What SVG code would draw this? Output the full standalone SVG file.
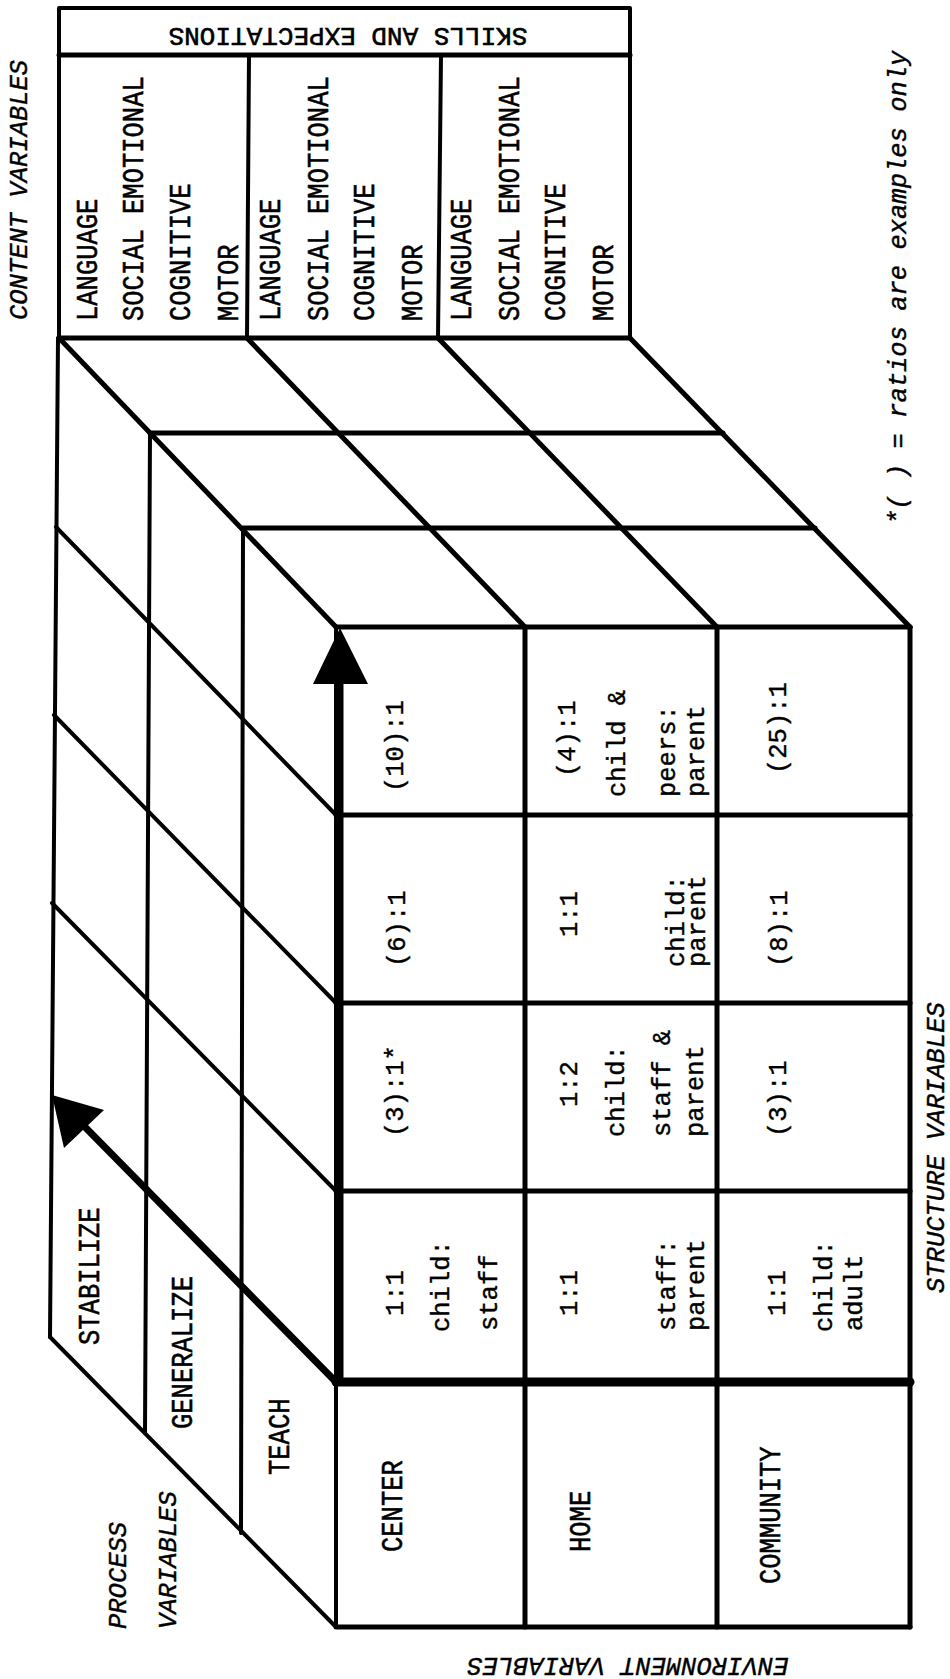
<svg xmlns="http://www.w3.org/2000/svg" width="950" height="1679" viewBox="0 0 950 1679">
<style>
.ln{stroke:#000;fill:none;stroke-linecap:round;stroke-linejoin:round}
.w3{stroke-width:3}.w4{stroke-width:4}.w5{stroke-width:5}.w7{stroke-width:7}.w9{stroke-width:9}
text{font-family:"Liberation Mono","Courier New",monospace;font-size:25.5px;fill:#000;stroke:#000;stroke-width:0.4}
.cap{stroke-width:0.5}
.it{font-style:italic}
.hd{font-size:26px;stroke-width:0.6}
</style>
<rect width="950" height="1679" fill="#fff"/>
<g id="content-face" class="ln">
<path class="w4" d="M59,8 L630,8 L630,338 M59,8 L59,338"/>
<line class="w5" x1="59" y1="55" x2="630" y2="55"/>
<line class="w4" x1="249" y1="55" x2="247" y2="338"/>
<line class="w4" x1="441" y1="55" x2="438" y2="338"/>
<line class="w5" x1="59" y1="338" x2="630" y2="338"/>
</g>
<g id="top-face" class="ln w5">
<line x1="59" y1="338" x2="336" y2="627"/>
<line x1="247" y1="338" x2="525" y2="627"/>
<line x1="438" y1="338" x2="717" y2="627"/>
<line x1="630" y1="338" x2="910" y2="627"/>
<line x1="150" y1="433" x2="723" y2="433"/>
<line x1="243" y1="528" x2="815" y2="528"/>
</g>
<g id="left-face" class="ln w4">
<line x1="58" y1="338" x2="50" y2="1337"/>
<line x1="150" y1="433" x2="145" y2="1433"/>
<line x1="243" y1="528" x2="241" y2="1533"/>
<line x1="56" y1="527" x2="336" y2="815"/>
<line x1="54" y1="715" x2="336" y2="1003"/>
<line x1="52" y1="903" x2="336" y2="1191"/>
<line x1="50" y1="1337" x2="336" y2="1627"/>
</g>
<g id="front-face" class="ln w5">
<line x1="336" y1="627" x2="910" y2="627"/>
<line x1="910" y1="627" x2="910" y2="1627"/>
<line x1="336" y1="1627" x2="910" y2="1627"/>
<line class="w4" x1="336" y1="627" x2="336" y2="1627"/>
<line x1="336" y1="815" x2="910" y2="815"/>
<line x1="336" y1="1003" x2="910" y2="1003"/>
<line x1="336" y1="1191" x2="910" y2="1191"/>
<line class="w9" x1="336" y1="1382" x2="910" y2="1382"/>
<line x1="525" y1="627" x2="525" y2="1627"/>
<line x1="717" y1="627" x2="717" y2="1627"/>
</g>
<g id="connectors">
<line class="ln w7" x1="340" y1="1382" x2="340" y2="680"/>
<polygon points="340,628 313,684 368,684" fill="#000"/>
<line class="ln w7" x1="336" y1="1382" x2="86" y2="1128"/>
<polygon points="52,1095 64,1148 104,1110" fill="#000"/>
</g>
<g id="content-labels">
<text class="hd" text-anchor="middle" transform="translate(348,28) rotate(180)">SKILLS AND EXPECTATIONS</text>
<text class="cap" transform="translate(97,321) rotate(-90) scale(1,1.15)">LANGUAGE</text>
<text class="cap" transform="translate(143,321) rotate(-90) scale(1,1.15)">SOCIAL EMOTIONAL</text>
<text class="cap" transform="translate(190,321) rotate(-90) scale(1,1.15)">COGNITIVE</text>
<text class="cap" transform="translate(238,321) rotate(-90) scale(1,1.15)">MOTOR</text>
<text class="cap" transform="translate(280,321) rotate(-90) scale(1,1.15)">LANGUAGE</text>
<text class="cap" transform="translate(328,321) rotate(-90) scale(1,1.15)">SOCIAL EMOTIONAL</text>
<text class="cap" transform="translate(374,321) rotate(-90) scale(1,1.15)">COGNITIVE</text>
<text class="cap" transform="translate(422,321) rotate(-90) scale(1,1.15)">MOTOR</text>
<text class="cap" transform="translate(471,321) rotate(-90) scale(1,1.15)">LANGUAGE</text>
<text class="cap" transform="translate(519,321) rotate(-90) scale(1,1.15)">SOCIAL EMOTIONAL</text>
<text class="cap" transform="translate(565,321) rotate(-90) scale(1,1.15)">COGNITIVE</text>
<text class="cap" transform="translate(613,321) rotate(-90) scale(1,1.15)">MOTOR</text>
</g>
<g id="process-labels">
<text class="cap" transform="translate(99,1345) rotate(-90) scale(1,1.15)">STABILIZE</text>
<text class="cap" transform="translate(192,1429) rotate(-90) scale(1,1.15)">GENERALIZE</text>
<text class="cap" transform="translate(289,1475) rotate(-90) scale(1,1.15)">TEACH</text>
</g>
<g id="environment-labels">
<text class="cap" transform="translate(402,1552) rotate(-90) scale(1,1.15)">CENTER</text>
<text class="cap" transform="translate(590,1552) rotate(-90) scale(1,1.15)">HOME</text>
<text class="cap" transform="translate(780,1584) rotate(-90) scale(1,1.15)">COMMUNITY</text>
</g>
<g id="ratio-cells">
<text transform="translate(403,792) rotate(-90)">(10):1</text>
<text transform="translate(575,777) rotate(-90)">(4):1</text>
<text transform="translate(625,797) rotate(-90)">child &amp;</text>
<text transform="translate(675,797) rotate(-90)">peers:</text>
<text transform="translate(704,797) rotate(-90)">parent</text>
<text transform="translate(786,774) rotate(-90)">(25):1</text>
<text transform="translate(405,967) rotate(-90)">(6):1</text>
<text transform="translate(577,937) rotate(-90)">1:1</text>
<text transform="translate(684,967) rotate(-90)">child:</text>
<text transform="translate(705,967) rotate(-90)">parent</text>
<text transform="translate(787,967) rotate(-90)">(8):1</text>
<text transform="translate(403,1137) rotate(-90)">(3):1*</text>
<text transform="translate(577,1107) rotate(-90)">1:2</text>
<text transform="translate(624,1137) rotate(-90)">child:</text>
<text transform="translate(670,1137) rotate(-90)">staff &amp;</text>
<text transform="translate(703,1137) rotate(-90)">parent</text>
<text transform="translate(786,1137) rotate(-90)">(3):1</text>
<text transform="translate(403,1316) rotate(-90)">1:1</text>
<text transform="translate(449,1332) rotate(-90)">child:</text>
<text transform="translate(497,1331) rotate(-90)">staff</text>
<text transform="translate(577,1316) rotate(-90)">1:1</text>
<text transform="translate(675,1331) rotate(-90)">staff:</text>
<text transform="translate(704,1331) rotate(-90)">parent</text>
<text transform="translate(785,1316) rotate(-90)">1:1</text>
<text transform="translate(832,1332) rotate(-90)">child:</text>
<text transform="translate(862,1331) rotate(-90)">adult</text>
</g>
<g id="axis-titles">
<text class="it" transform="translate(27,320) rotate(-90)">CONTENT VARIABLES</text>
<text class="it" transform="translate(906,525) rotate(-90)">*( ) = ratios are examples only</text>
<text class="it" transform="translate(126,1629) rotate(-90)">PROCESS</text>
<text class="it" transform="translate(176,1629) rotate(-90)">VARIABLES</text>
<text class="it" transform="translate(944,1293) rotate(-90)">STRUCTURE VARIABLES</text>
<text class="it" text-anchor="middle" transform="translate(628,1658) rotate(180)">ENVIRONMENT VARIABLES</text>
</g>
</svg>
